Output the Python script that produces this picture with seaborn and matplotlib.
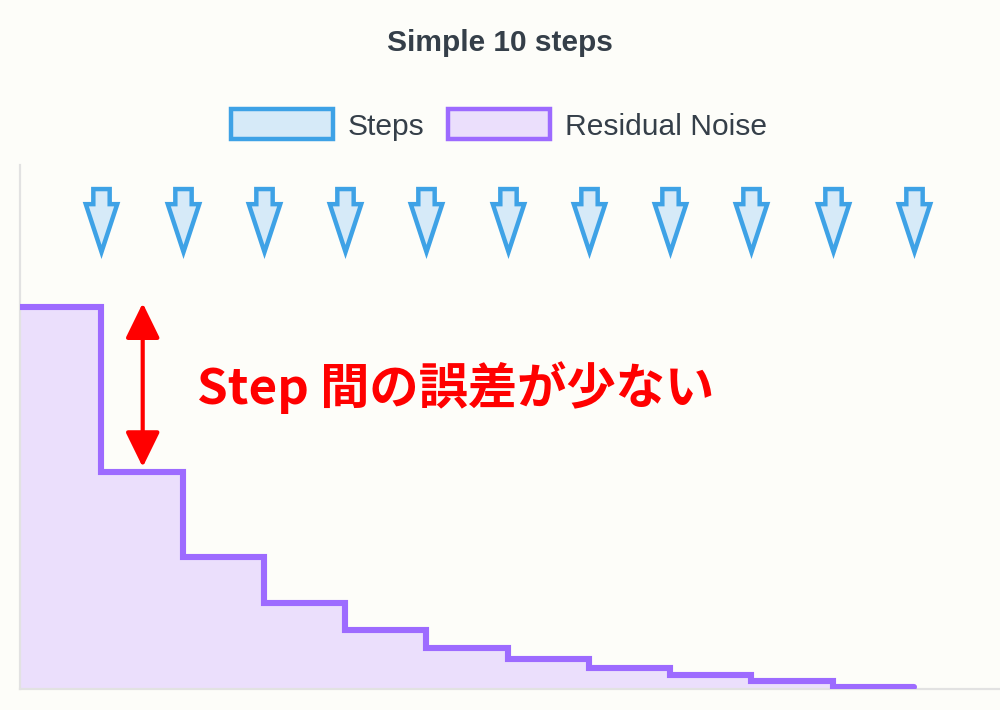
import numpy as np
import pandas as pd
import matplotlib
matplotlib.use("Agg")
import matplotlib.pyplot as plt
from matplotlib.path import Path
from matplotlib.patches import Patch
import seaborn as sns

# ---- data ----
title = "Simple 10 steps"
legend_labels = ["Steps", "Residual Noise"]
step_edges = list(range(0, 12))            # 0..11
residual_noise = [1.000, 0.568, 0.346, 0.225, 0.154, 0.107, 0.079, 0.055, 0.037, 0.021, 0.005]
step_positions = list(range(1, 12))        # arrows at 1..11
step_marker_level = [1.229] * 11
annotation_text = "Step 間の誤差が少ない"

# ---- style ----
sns.set_theme(style="white")
plt.rcParams['font.family'] = ['Liberation Sans', 'DejaVu Sans']
bg = "#fdfdf9"
blue_edge = "#3ea2e6"
blue_face = "#d6eaf8"
purple_edge = "#9d6bff"
purple_face = "#ebdffc"
text_col = "#353f49"

fig = plt.figure(figsize=(10, 7.1), dpi=100, facecolor=bg)
ax = fig.add_axes([0.02, 21 / 710, 0.98, 524 / 710])
ax.set_facecolor(bg)

# step line + fill
xs = step_edges
ys = residual_noise + [residual_noise[-1]]
df = pd.DataFrame({"x": xs, "y": ys})
ax.fill_between(df["x"], df["y"], 0, step="post", color=purple_face, linewidth=0, zorder=1)
sns.lineplot(data=df, x="x", y="y", drawstyle="steps-post", color=purple_edge,
             linewidth=4.4, ax=ax, zorder=3, solid_joinstyle="miter")

# arrow markers
arrow_verts = [(-0.13, 0.5), (0.13, 0.5), (0.13, 0.26), (0.25, 0.26), (0.0, -0.5),
               (-0.25, 0.26), (-0.13, 0.26), (-0.13, 0.5)]
arrow_path = Path(arrow_verts, [Path.MOVETO] + [Path.LINETO] * 6 + [Path.CLOSEPOLY])
sdf = pd.DataFrame({"x": step_positions, "y": step_marker_level})
sc = ax.scatter(sdf["x"], sdf["y"], marker=arrow_path, s=2050, facecolor=blue_face,
                edgecolor=blue_edge, linewidth=3.2, zorder=4)
try:
    sc.set_joinstyle("miter")
except Exception:
    pass

# red double arrow annotation
ax.annotate("", xy=(1.51, residual_noise[0] + 0.01), xytext=(1.51, residual_noise[1] + 0.013),
            arrowprops=dict(arrowstyle="<|-|>,head_length=0.45,head_width=0.22", color="#ff0000",
                            lw=3, mutation_scale=48, shrinkA=0, shrinkB=0), zorder=5)
ax.text(2.18, 0.79, annotation_text, color="#ff0000", fontsize=35.5, fontweight="bold",
        family=["Noto Sans CJK JP", "DejaVu Sans"], ha="left", va="center", zorder=5)

ax.set_xlim(0, 12.06)
ax.set_ylim(0, 1.3717)
ax.set_xticks([])
ax.set_yticks([])
ax.set_xlabel("")
ax.set_ylabel("")
for s in ["top", "right"]:
    ax.spines[s].set_visible(False)
for s in ["left", "bottom"]:
    ax.spines[s].set_color("#e2e2e2")
    ax.spines[s].set_linewidth(1.6)

fig.text(0.5, 1 - 43 / 710, title, ha="center", va="center", fontsize=21.5,
         fontweight="bold", color=text_col)

handles = [Patch(facecolor=blue_face, edgecolor=blue_edge, linewidth=3.2),
           Patch(facecolor=purple_face, edgecolor=purple_edge, linewidth=3.2)]
fig.legend(handles, legend_labels, loc="center", bbox_to_anchor=(0.499, 1 - 125 / 710),
           ncol=2, frameon=False, fontsize=21.6, labelcolor=text_col,
           handlelength=3.4, handleheight=1.15, handletextpad=0.5, columnspacing=0.8)

fig.savefig("out.png", dpi=100, facecolor=bg)
